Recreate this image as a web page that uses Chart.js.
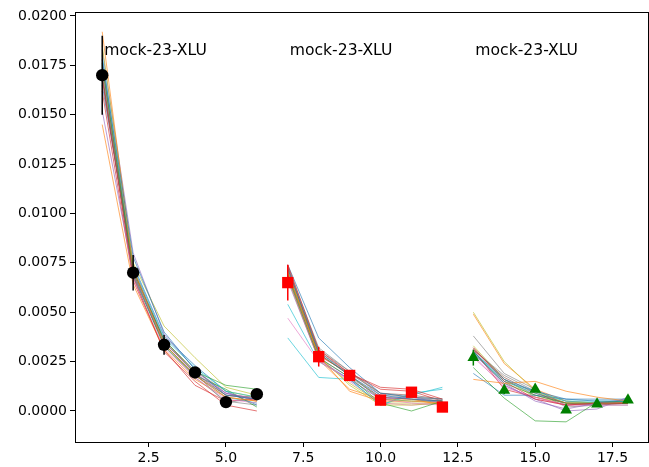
<!DOCTYPE html>
<html>
<head>
<meta charset="utf-8">
<script src="https://cdn.jsdelivr.net/npm/chart.js@4"></script>
<style>
  html, body { margin: 0; padding: 0; background: #fff; }
  #wrap { width: 649px; height: 467px; }
</style>
</head>
<body>
<div id="wrap"><canvas id="c" width="649" height="467"></canvas></div>
<script>
/* global Chart */

// x positions of the three groups
const xGroups = [
  [1, 2, 3, 4, 5, 6],
  [7, 8, 9, 10, 11, 12],
  [13, 14, 15, 16, 17, 18]
]

// measured values + errors
const obsBlack = [0.0170, 0.0070, 0.00335, 0.00195, 0.00045, 0.00085]
const errBlack = [0.0020, 0.0009, 0.0005, 0.0002, 0.0001, 0.0001]
const obsRed = [0.0065, 0.00275, 0.0018, 0.00055, 0.00095, 0.0002]
const errRed = [0.0009, 0.0005, 0.0002, 0.0001, 0.0001, 0.0001]
const obsGreen = [0.0027, 0.00105, 0.0011, 0.00005, 0.00035, 0.00055]
const errGreen = [0.0004, 0.0002, 0.0001, 0.0001, 0.0001, 0.0001]

// mock realisations, one row per mock, per group
const mocksA = [
  [0.0178, 0.0078, 0.0040, 0.0021, 0.0008, 0.0006],
  [0.0192, 0.0072, 0.0034, 0.0018, 0.0007, 0.0005],
  [0.0175, 0.0071, 0.0036, 0.0020, 0.0013, 0.0011],
  [0.0168, 0.0068, 0.0030, 0.0015, 0.0003, 0.0000],
  [0.0152, 0.0069, 0.0035, 0.0019, 0.0009, 0.0006],
  [0.0170, 0.0070, 0.0034, 0.0018, 0.0008, 0.0006],
  [0.0172, 0.0067, 0.0032, 0.0017, 0.0006, 0.0004],
  [0.0176, 0.0072, 0.0035, 0.0019, 0.0004, 0.0007],
  [0.0185, 0.0075, 0.0043, 0.0027, 0.0012, 0.0008],
  [0.0180, 0.0073, 0.0037, 0.0022, 0.0010, 0.0007],
  [0.0165, 0.0074, 0.0038, 0.0023, 0.0010, 0.0003],
  [0.0145, 0.0064, 0.0031, 0.0016, 0.0007, 0.0005],
  [0.0170, 0.0069, 0.0033, 0.0018, 0.0011, 0.0002],
  [0.0162, 0.0066, 0.0031, 0.0013, 0.0005, 0.0006],
  [0.0183, 0.0080, 0.0039, 0.0021, 0.0009, 0.0005],
  [0.0174, 0.0071, 0.0036, 0.0019, 0.0008, 0.0007],
  [0.0178, 0.0073, 0.0036, 0.0020, 0.0009, 0.0006],
  [0.0169, 0.0070, 0.0033, 0.0017, 0.0005, 0.0003],
  [0.0176, 0.0072, 0.0035, 0.0020, 0.0010, 0.0007],
  [0.0171, 0.0068, 0.0034, 0.0018, 0.0007, 0.0004]
]
const mocksB = [
  [0.0072, 0.0030, 0.0018, 0.0008, 0.0006, 0.0005],
  [0.0070, 0.0028, 0.0010, 0.0005, 0.0005, 0.0004],
  [0.0068, 0.0027, 0.0017, 0.0004, 0.0000, 0.0005],
  [0.0074, 0.0031, 0.0019, 0.0012, 0.0011, 0.0006],
  [0.0066, 0.0026, 0.0016, 0.0006, 0.0007, 0.0004],
  [0.0069, 0.0029, 0.0018, 0.0007, 0.0006, 0.0005],
  [0.0047, 0.0025, 0.0016, 0.0006, 0.0004, 0.0003],
  [0.0073, 0.0032, 0.0020, 0.0008, 0.0007, 0.0006],
  [0.0071, 0.0028, 0.0013, 0.0003, 0.0003, 0.0004],
  [0.0037, 0.0017, 0.0016, 0.0003, 0.0008, 0.0012],
  [0.0074, 0.0037, 0.0022, 0.0009, 0.0007, 0.0006],
  [0.0067, 0.0026, 0.0011, 0.0006, 0.0006, 0.0003],
  [0.0070, 0.0029, 0.0018, 0.0006, 0.0005, 0.0005],
  [0.0073, 0.0028, 0.0019, 0.0011, 0.0010, 0.0005],
  [0.0069, 0.0027, 0.0017, 0.0007, 0.0006, 0.0004],
  [0.0071, 0.0030, 0.0019, 0.0009, 0.0008, 0.0006],
  [0.0068, 0.0026, 0.0015, 0.0004, 0.0003, 0.0004],
  [0.0072, 0.0031, 0.0020, 0.0009, 0.0007, 0.0005],
  [0.0069, 0.0027, 0.0014, 0.0004, 0.0004, 0.0004],
  [0.0054, 0.0025, 0.0016, 0.0003, 0.0009, 0.0011]
]
const mocksC = [
  [0.0030, 0.0016, 0.0010, 0.0006, 0.0005, 0.0005],
  [0.0016, 0.0014, 0.0015, 0.0010, 0.0007, 0.0005],
  [0.0022, 0.00065, -0.0005, -0.00055, 0.00045, 0.0005],
  [0.0032, 0.0015, 0.0006, 0.0003, 0.0004, 0.0004],
  [0.0029, 0.0014, 0.0005, 0.0001, 0.0004, 0.0006],
  [0.0031, 0.0017, 0.0009, 0.0004, 0.0003, 0.0004],
  [0.0028, 0.0012, 0.0007, 0.0003, 0.0003, 0.0003],
  [0.0038, 0.0019, 0.0011, 0.0003, 0.0004, 0.0004],
  [0.0050, 0.0025, 0.0010, 0.0004, 0.0004, 0.0004],
  [0.0030, 0.0015, 0.0009, 0.0005, 0.0004, 0.0005],
  [0.0019, 0.0008, 0.0008, 0.0006, 0.0006, 0.0006],
  [0.0049, 0.0024, 0.0011, 0.0005, 0.0004, 0.0004],
  [0.0030, 0.0014, 0.0008, 0.0004, 0.0004, 0.0004],
  [0.0031, 0.0011, 0.0007, 0.0003, 0.0004, 0.0004],
  [0.0030, 0.0013, 0.0006, 0.0000, 0.0001, 0.0007],
  [0.0032, 0.0016, 0.0008, 0.0004, 0.0004, 0.0004],
  [0.0027, 0.0013, 0.0006, 0.0003, 0.0003, 0.0004],
  [0.0031, 0.0018, 0.0010, 0.0002, 0.0003, 0.0003],
  [0.0033, 0.0016, 0.0007, 0.0004, 0.0004, 0.0004],
  [0.0029, 0.0015, 0.0010, 0.0005, 0.0005, 0.0005]
]

const labelText = 'mock-23-XLU'
const labelX = [1, 7, 13]
const labelY = 0.018

const xTicks = [2.5, 5.0, 7.5, 10.0, 12.5, 15.0, 17.5]
const yTicks = [0.0000, 0.0025, 0.0050, 0.0075, 0.0100, 0.0125, 0.0150, 0.0175, 0.0200]

const tab10 = ['31,119,180', '255,127,14', '44,160,44', '214,39,40', '148,103,189',
  '140,86,75', '227,119,194', '127,127,127', '188,189,34', '23,190,207']

const FONT = 'DejaVu Sans'

function pts(xs, ys) {
  return xs.map((x, i) => ({ x, y: ys[i] }))
}

const datasets = []

// observed points on top
const obs = [
  { ys: obsBlack, err: errBlack, color: '#000000', style: 'circle', r: 6.2 },
  { ys: obsRed, err: errRed, color: '#ff0000', style: 'rect', r: 8 },
  { ys: obsGreen, err: errGreen, color: '#008000', style: 'triangle', r: 6.8 }
]
obs.forEach((o, g) => {
  datasets.push({
    data: pts(xGroups[g], o.ys),
    showLine: false,
    pointStyle: o.style,
    pointRadius: o.r,
    pointBackgroundColor: o.color,
    pointBorderColor: o.color,
    pointBorderWidth: 0,
    order: 0
  })
  xGroups[g].forEach((x, i) => {
    datasets.push({
      data: [{ x, y: o.ys[i] - o.err[i] }, { x, y: o.ys[i] + o.err[i] }],
      showLine: true,
      borderColor: o.color,
      borderWidth: 1.5,
      pointRadius: 0,
      order: 1
    })
  })
})

// mock lines; each mock is one line broken between groups
for (let m = 0; m < mocksA.length; m++) {
  const data = [
    ...pts(xGroups[0], mocksA[m]), { x: 6.5, y: null },
    ...pts(xGroups[1], mocksB[m]), { x: 12.5, y: null },
    ...pts(xGroups[2], mocksC[m])
  ]
  datasets.push({
    data,
    showLine: true,
    spanGaps: false,
    borderColor: `rgba(${tab10[m % 10]},0.8)`,
    borderWidth: 0.8,
    pointRadius: 0,
    order: 2
  })
}

const framePlugin = {
  id: 'frame',
  afterDatasetsDraw(chart) {
    const { ctx, chartArea: a, scales } = chart
    ctx.save()
    ctx.font = `15.6px "${FONT}"`
    ctx.fillStyle = '#000'
    ctx.textAlign = 'left'
    ctx.textBaseline = 'alphabetic'
    for (const x of labelX) {
      ctx.fillText(labelText, scales.x.getPixelForValue(x) + 2, scales.y.getPixelForValue(labelY))
    }
    ctx.strokeStyle = '#000'
    ctx.lineWidth = 1
    ctx.strokeRect(Math.round(a.left) + 0.5, Math.round(a.top) + 0.5,
      Math.round(a.right - a.left) - 1, Math.round(a.bottom - a.top))
    ctx.restore()
  }
}

new Chart(document.getElementById('c'), {
  type: 'scatter',
  data: { datasets },
  plugins: [framePlugin],
  options: {
    responsive: false,
    animation: false,
    layout: { autoPadding: false, padding: { top: 12, right: 0, left: 0, bottom: 0 } },
    plugins: { legend: { display: false }, tooltip: { enabled: false } },
    scales: {
      x: {
        type: 'linear',
        min: 0.12,
        max: 18.68,
        afterBuildTicks: s => { s.ticks = xTicks.map(v => ({ value: v })) },
        afterFit: s => { s.height = 25; s.paddingLeft = 0; s.paddingRight = 0 },
        grid: { drawOnChartArea: false, drawTicks: true, tickLength: 5, color: '#000' },
        border: { display: false },
        ticks: {
          color: '#000',
          padding: 3,
          maxRotation: 0,
          autoSkip: false,
          font: { family: FONT, size: 14 },
          callback: v => Number(v).toFixed(1)
        }
      },
      y: {
        type: 'linear',
        min: -0.00157,
        max: 0.0202,
        afterBuildTicks: s => { s.ticks = yTicks.map(v => ({ value: v })) },
        afterFit: s => { s.width = 75 },
        grid: { drawOnChartArea: false, drawTicks: true, tickLength: 5, color: '#000' },
        border: { display: false },
        ticks: {
          color: '#000',
          padding: 3,
          autoSkip: false,
          font: { family: FONT, size: 14 },
          callback: v => Number(v).toFixed(4)
        }
      }
    }
  }
})
</script>
</body>
</html>
